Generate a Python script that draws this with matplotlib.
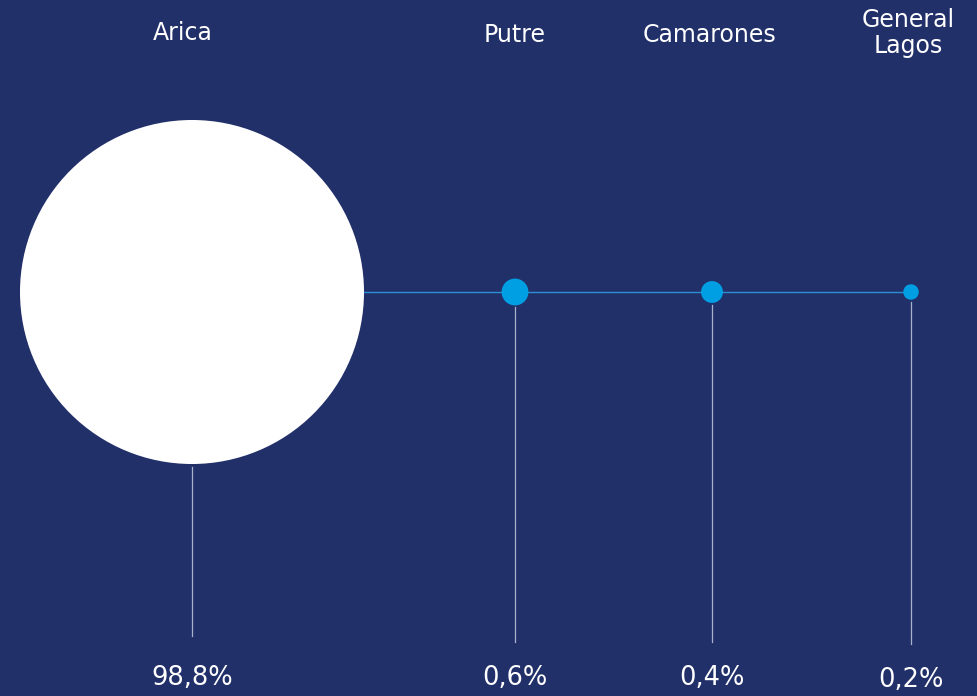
import matplotlib
matplotlib.use("Agg")
import matplotlib.pyplot as plt
from matplotlib.patches import Circle
import numpy as np

categories = ["Arica", "Putre", "Camarones", "General\nLagos"]
values = [98.8, 0.6, 0.4, 0.2]
value_labels = ["98,8%", "0,6%", "0,4%", "0,2%"]

BG = "#22306a"
x_pos = [192, 515, 712, 911]
y_center = 292
max_r = 172
colors = ["#ffffff", "#009fe3", "#009fe3", "#009fe3"]
line_bottom = [636, 642, 642, 644]
top_x = [183, 515, 709, 908]
top_y = [33, 35, 35, 33]
bot_y = [678, 678, 678, 680]

fig = plt.figure(figsize=(9.78, 6.96), dpi=100, facecolor=BG)
ax = fig.add_axes([0, 0, 1, 1])
ax.set_facecolor(BG)
ax.set_xlim(0, 978)
ax.set_ylim(696, 0)
ax.set_aspect("equal")
ax.axis("off")

radii = [max_r * np.sqrt(v / values[0]) for v in values]

# horizontal connector
ax.plot([x_pos[0] + radii[0], x_pos[-1]], [y_center, y_center],
        color="#2b8fd3", lw=1.0, zorder=1)

fam = ["DejaVu Sans"]
for i, (x, r, c, lb, cat, vl) in enumerate(zip(x_pos, radii, colors, line_bottom, categories, value_labels)):
    ax.plot([x, x], [y_center + r + (3 if r > 20 else 2), lb],
            color="#a9b0c9", lw=0.9, zorder=1)
    ax.add_patch(Circle((x, y_center), r, facecolor=c, edgecolor="none", zorder=2))
    ax.text(top_x[i], top_y[i], cat, ha="center", va="center",
            color="white", fontsize=17, family=fam, linespacing=1.15)
    ax.text(x, bot_y[i], vl, ha="center", va="center", color="white",
            fontsize=18.5, family=fam)

fig.savefig("out.png", dpi=100, facecolor=BG)
